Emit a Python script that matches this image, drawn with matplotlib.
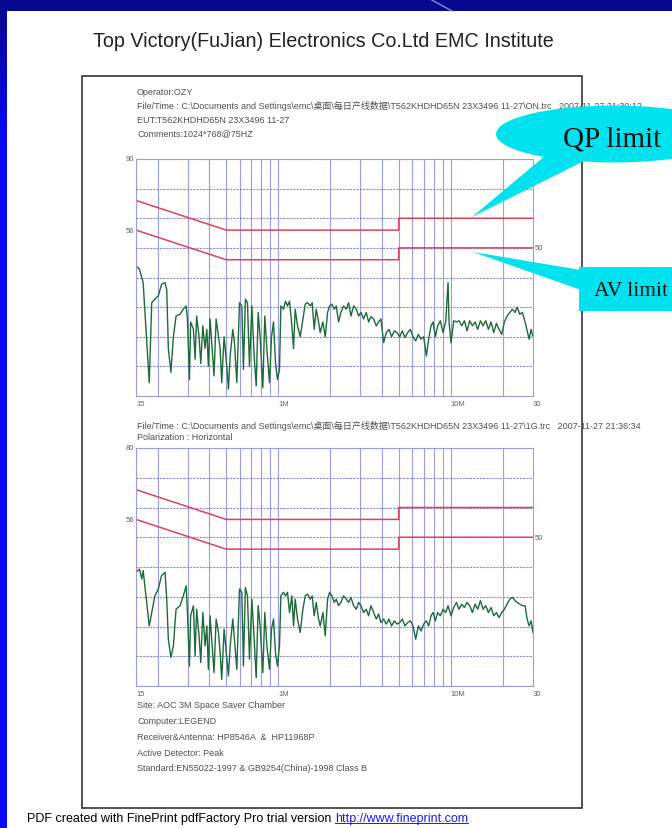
import matplotlib
matplotlib.use("Agg")
import matplotlib.pyplot as plt
import numpy as np
from matplotlib.patches import Rectangle, Ellipse, Polygon

freq = [0.150, 0.157, 0.162, 0.165, 0.179, 0.185, 0.193, 0.202, 0.211, 0.221,
        0.226, 0.231, 0.239, 0.247, 0.256, 0.270, 0.282, 0.293, 0.298, 0.306,
        0.311, 0.323, 0.330, 0.337, 0.348, 0.356, 0.366, 0.377, 0.386, 0.394,
        0.403, 0.412, 0.425, 0.437, 0.451, 0.461, 0.471, 0.486, 0.504, 0.515,
        0.527, 0.546, 0.558, 0.576, 0.597, 0.616, 0.629, 0.646, 0.664, 0.682,
        0.704, 0.726, 0.746, 0.766, 0.786, 0.815, 0.837, 0.860, 0.891, 0.915,
        0.940, 0.965, 0.991, 1.018, 1.037, 1.074, 1.103, 1.133, 1.164, 1.201,
        1.228, 1.255, 1.295, 1.342, 1.391, 1.435, 1.480, 1.534, 1.575, 1.618,
        1.662, 1.715, 1.753, 1.817, 1.875, 1.934, 1.986, 2.049, 2.114, 2.171,
        2.240, 2.310, 2.394, 2.482, 2.560, 2.641, 2.737, 2.837, 2.926, 3.019,
        3.128, 3.241, 3.345, 3.450, 3.576, 3.705, 3.822, 3.943, 4.086, 4.234,
        4.389, 4.548, 4.713, 4.884, 5.060, 5.244, 5.433, 5.631, 5.835, 6.047,
        6.266, 6.494, 6.728, 6.974, 7.226, 7.455, 7.692, 7.901, 8.150, 8.408,
        8.712, 9.029, 9.356, 9.653, 9.782, 10.05, 10.41, 10.79, 11.18, 11.59,
        12.01, 12.44, 12.89, 13.36, 13.85, 14.35, 14.87, 15.41, 15.97, 16.54,
        17.14, 17.76, 18.41, 19.07, 19.77, 20.48, 21.23, 21.99, 22.79, 23.62,
        24.27, 25.15, 26.06, 27.00, 27.74, 28.49, 29.27, 30.00]

level_on = [44.0, 42.8, 40.0, 38.3, 4.5, 31.5, 32.7, 33.8, 37.7, 38.3,
            36.0, 16.0, 8.0, 20.0, 27.0, 27.6, 29.3, 30.4, 26.0, 5.6,
            25.0, 22.5, 12.4, 27.0, 20.0, 11.0, 23.7, 16.0, 22.5, 10.0,
            26.0, 18.0, 6.8, 26.0, 20.0, 16.0, 4.5, 20.0, 10.0, 2.3,
            13.5, 22.5, 18.0, 4.5, 31.5, 30.4, 9.0, 32.7, 31.5, 10.0,
            30.4, 13.5, 3.4, 28.2, 20.0, 2.8, 27.0, 16.0, 4.5, 20.0,
            25.0, 11.3, 5.6, 9.0, 30.4, 29.3, 32.0, 30.4, 32.0, 23.7,
            16.0, 29.3, 23.7, 20.0, 26.0, 31.0, 31.5, 30.4, 31.5, 22.5,
            29.3, 25.0, 21.4, 25.0, 20.0, 28.2, 30.4, 31.0, 29.3, 30.4,
            25.0, 28.2, 30.4, 29.3, 31.5, 27.0, 30.4, 29.3, 27.0, 28.2,
            26.0, 28.2, 25.0, 26.8, 26.0, 23.7, 25.0, 26.0, 18.0, 21.4,
            22.5, 20.0, 22.0, 21.4, 20.0, 22.0, 19.7, 21.4, 22.5, 20.0,
            18.6, 20.8, 19.2, 20.0, 13.5, 19.2, 23.7, 25.0, 20.0, 23.7,
            25.4, 21.4, 25.0, 38.3, 25.0, 18.0, 25.4, 25.0, 25.4, 23.7,
            25.4, 22.0, 25.4, 23.7, 25.0, 22.5, 25.4, 23.7, 25.4, 22.5,
            25.0, 21.4, 24.5, 22.5, 20.8, 25.0, 27.0, 28.2, 29.3, 28.2,
            30.0, 27.6, 28.2, 25.0, 22.0, 19.2, 22.5, 20.0]

level_1g = [38.2, 39.3, 36.0, 38.8, 20.2, 24.7, 30.3, 32.6, 37.1, 38.2,
            29.2, 15.7, 9.6, 13.5, 25.8, 27.0, 30.3, 33.7, 24.7, 6.7,
            23.6, 27.0, 10.1, 25.8, 16.9, 7.9, 24.7, 13.5, 20.2, 5.6,
            23.6, 15.7, 4.5, 22.5, 18.0, 11.2, 2.2, 19.1, 9.0, 3.4,
            13.5, 22.5, 15.7, 5.6, 32.6, 31.5, 6.7, 33.1, 30.3, 9.0,
            29.2, 15.7, 2.8, 27.0, 20.2, 4.5, 24.7, 13.5, 5.6, 19.1,
            22.5, 11.2, 6.7, 13.5, 30.3, 31.5, 30.3, 31.5, 24.7, 30.3,
            20.2, 29.2, 22.5, 18.0, 25.8, 30.3, 30.9, 29.2, 30.3, 23.6,
            28.1, 22.5, 20.2, 24.7, 16.9, 29.2, 31.5, 30.3, 28.1, 29.2,
            27.0, 28.1, 30.3, 29.2, 28.1, 29.8, 27.0, 25.8, 28.1, 27.0,
            24.7, 25.8, 23.6, 27.0, 24.7, 22.5, 24.2, 21.3, 22.5, 20.8,
            22.5, 20.2, 21.9, 20.8, 21.3, 22.5, 20.2, 21.3, 21.9, 20.2,
            15.7, 20.2, 18.5, 20.8, 21.9, 20.2, 23.6, 24.7, 21.9, 24.7,
            23.6, 25.8, 24.7, 27.0, 25.8, 23.6, 26.4, 28.1, 25.8, 27.5,
            26.4, 28.1, 27.0, 24.7, 27.5, 25.8, 28.7, 25.8, 27.0, 24.7,
            26.4, 23.6, 24.7, 23.0, 24.7, 25.8, 27.5, 29.2, 29.8, 28.7,
            28.1, 27.5, 27.0, 27.0, 22.5, 20.2, 21.9, 18.0]

# EN55022 class B limits
limit_f = [0.15, 0.5, 5.0, 5.0, 30.0]
qp_limit = [66, 56, 56, 60, 60]
av_limit = [56, 46, 46, 50, 50]

grid_f = [0.2, 0.3, 0.4, 0.5, 0.6, 0.7, 0.8, 0.9, 1, 2, 3, 4, 5, 6, 7, 8, 9, 10, 20]
x_labels = [(0.15, "15"), (1.0, "1M"), (10.0, "10M"), (30.0, "30")]

header_top = ["Operator:OZY",
              "File/Time : C:\\Documents and Settings\\emc\\桌面\\每日产线数据\\T562KHDHD65N 23X3496 11-27\\ON.trc   2007-11-27 21:30:12",
              "EUT:T562KHDHD65N 23X3496 11-27",
              "Comments:1024*768@75HZ"]
header_bot = ["File/Time : C:\\Documents and Settings\\emc\\桌面\\每日产线数据\\T562KHDHD65N 23X3496 11-27\\1G.trc   2007-11-27 21:36:34",
              "Polarization : Horizontal"]
footer = ["Site: AOC 3M Space Saver Chamber",
          "Computer:LEGEND",
          "Receiver&Antenna: HP8546A  &  HP11968P",
          "Active Detector: Peak",
          "Standard:EN55022-1997 & GB9254(China)-1998 Class B"]

W, H = 672, 829
fam = ["Liberation Sans", "Noto Sans CJK SC", "DejaVu Sans"]
small = dict(fontsize=6.5, color="#505050", family=fam)
tiny = dict(fontsize=5.5, color="#606060", family=fam)

fig = plt.figure(figsize=(W / 100, H / 100), dpi=100)

# slide background + page
bg = fig.add_axes([0, 0, 1, 1], zorder=0)
bg.set_xlim(0, W)
bg.set_ylim(H, 0)
bg.axis("off")
grad = np.clip(np.linspace(0, 1, 200) * 6, 0, 1)
img = np.zeros((200, 1, 3))
img[:, 0, 2] = 0.55 + 0.42 * grad
img[:, 0, 0] = 0.03
img[:, 0, 1] = 0.03
bg.imshow(img, extent=[0, W, H, 0], aspect="auto")
bg.add_patch(Rectangle((7, 12), W, H, facecolor="white", edgecolor="none"))
bg.plot([430, 452], [0, 12], color="#7f8fe0", lw=1)
bg.add_patch(Rectangle((82, 77), 500, 732, facecolor="none", edgecolor="#444444", lw=1.3))

bg.text(323, 41, "Top Victory(FuJian) Electronics Co.Ltd EMC Institute",
        fontsize=14.2, family="Liberation Sans", color="#222222", ha="center", va="center")
for i, s in enumerate(header_top):
    bg.text(137, 92 + i * 14, s, ha="left", va="center", **small)
for i, s in enumerate(header_bot):
    bg.text(137, 426 + i * 12, s, ha="left", va="center", **small)
for i, s in enumerate(footer):
    bg.text(137, 705 + i * 16, s, ha="left", va="center", **small)

t1 = bg.text(27, 819, "PDF created with FinePrint pdfFactory Pro trial version ",
             fontsize=9.0, family="Liberation Sans", color="black", ha="left", va="center")
t2 = bg.annotate("http://www.fineprint.com", xy=(1, 0.5), xycoords=t1, fontsize=9.0,
                 family="Liberation Sans", color="#1a1aff", ha="left", va="center")


def draw_scan(rect, level, top_label):
    ax = fig.add_axes(rect, zorder=1)
    ax.set_facecolor("white")
    ax.set_xscale("log")
    ax.set_xlim(0.15, 30)
    ax.set_ylim(0, 80)
    ax.set_xticks(grid_f)
    ax.set_xticks([], minor=True)
    ax.set_yticks(range(0, 81, 10))
    ax.tick_params(length=0, labelbottom=False, labelleft=False)
    ax.grid(axis="x", color="#9c9ce0", lw=0.8)
    ax.grid(axis="y", color="#8a8ad8", lw=0.8, linestyle=(0, (2, 1)))
    for sp in ax.spines.values():
        sp.set_color("#9c9ce0")
        sp.set_linewidth(0.8)
    ax.plot(limit_f, qp_limit, color="#e0405a", lw=1.1)
    ax.plot(limit_f, av_limit, color="#e0405a", lw=1.1)
    ax.plot(freq, level, color="#1d6a3a", lw=1.0)
    for f, s in x_labels:
        ax.text(f, -1.5, s, ha="left", va="top", **tiny)
    ax.text(-0.005, 80, top_label, transform=ax.get_yaxis_transform(), ha="right", va="center", **tiny)
    ax.text(-0.005, 56, "56", transform=ax.get_yaxis_transform(), ha="right", va="center", **tiny)
    ax.text(1.005, 50, "50", transform=ax.get_yaxis_transform(), ha="left", va="center", **tiny)
    return ax


draw_scan([136 / W, 1 - 397 / H, 397 / W, 237 / H], level_on, "90")
draw_scan([136 / W, 1 - 687 / H, 397 / W, 238 / H], level_1g, "80")

# callouts on top
ov = fig.add_axes([0, 0, 1, 1], zorder=5)
ov.set_xlim(0, W)
ov.set_ylim(H, 0)
ov.axis("off")
cyan = "#00e3ee"
ov.add_patch(Polygon([(472, 218), (546, 156), (588, 160)], closed=True, facecolor=cyan, edgecolor="none"))
ov.add_patch(Ellipse((614, 135), 236, 57, facecolor=cyan, edgecolor="none"))
ov.text(612, 139, "QP limit", fontsize=21, family="Liberation Serif", color="#111111", ha="center", va="center")
ov.add_patch(Polygon([(473, 253), (581, 271), (581, 291)], closed=True, facecolor=cyan, edgecolor="none"))
ov.add_patch(Rectangle((579, 268), 120, 44, facecolor=cyan, edgecolor="none"))
ov.text(594, 291, "AV limit", fontsize=15.5, family="Liberation Serif", color="#111111", ha="left", va="center")

# underline the link
fig.canvas.draw()
bb = t2.get_window_extent().transformed(bg.transData.inverted())
bg.plot([bb.x0, bb.x1], [bb.y0 - 1, bb.y0 - 1], color="#1a1aff", lw=0.7)

fig.savefig("out.png", dpi=100)
